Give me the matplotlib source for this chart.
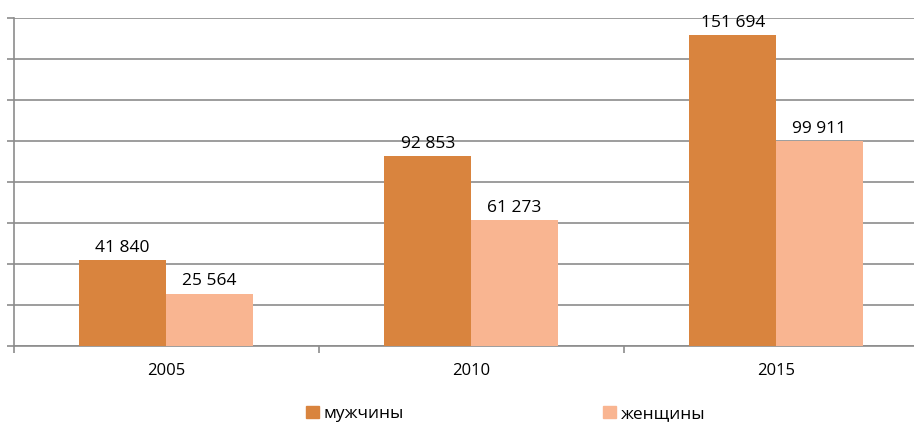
import matplotlib
matplotlib.use("Agg")
import matplotlib.pyplot as plt
import numpy as np
from matplotlib.patches import Patch

years = ["2005", "2010", "2015"]
men = [41840, 92853, 151694]
women = [25564, 61273, 99911]
series_names = ["мужчины", "женщины"]
labels_men = ["41 840", "92 853", "151 694"]
labels_women = ["25 564", "61 273", "99 911"]

c_men = "#D9843E"
c_women = "#F9B591"
grid_c = "#8C8C8C"

plt.rcParams['font.family'] = ['Open Sans', 'DejaVu Sans']

fig = plt.figure(figsize=(9.14, 4.25), dpi=100)
ax = fig.add_axes([13.5/914, 1-346/425, 915/914, (346-18)/425])

x = np.arange(len(years))
w = 0.284
b1 = ax.bar(x - w/2, men, w, color=c_men, edgecolor='none', zorder=3)
b2 = ax.bar(x + w/2, women, w, color=c_women, edgecolor='none', zorder=3)

for rect, lab in zip(b1, labels_men):
    ax.text(rect.get_x() + rect.get_width()/2, rect.get_height() + 2000, lab,
            ha='center', va='bottom', fontsize=12.5, color='black', zorder=4)
for rect, lab in zip(b2, labels_women):
    ax.text(rect.get_x() + rect.get_width()/2, rect.get_height() + 2000, lab,
            ha='center', va='bottom', fontsize=12.5, color='black', zorder=4)

ax.set_xlim(-0.5, 2.5)
ax.set_ylim(0, 160000)
ax.set_yticks(np.arange(0, 160001, 20000))
ax.set_yticklabels([])
ax.yaxis.grid(True, color=grid_c, linewidth=1.2, zorder=0)
ax.tick_params(axis='y', length=5, color=grid_c, width=1.2)

ax.set_xticks(x)
ax.set_xticklabels(years, fontsize=12)
ax.tick_params(axis='x', length=0, pad=12)
ax.set_xticks([-0.5, 0.5, 1.5, 2.5], minor=True)
ax.tick_params(axis='x', which='minor', length=5, color=grid_c, width=1.2)

for s in ['top', 'right']:
    ax.spines[s].set_visible(False)
for s in ['left', 'bottom']:
    ax.spines[s].set_color(grid_c)
    ax.spines[s].set_linewidth(1.2)

handles = [Patch(color=c_men), Patch(color=c_women)]
fig.legend(handles, series_names, loc='lower center', bbox_to_anchor=(0.553, -0.03),
           ncol=2, frameon=False, fontsize=12.5, handlelength=0.75, handleheight=0.75,
           handletextpad=0.25, columnspacing=11.5)

fig.savefig("out.png", dpi=100)
